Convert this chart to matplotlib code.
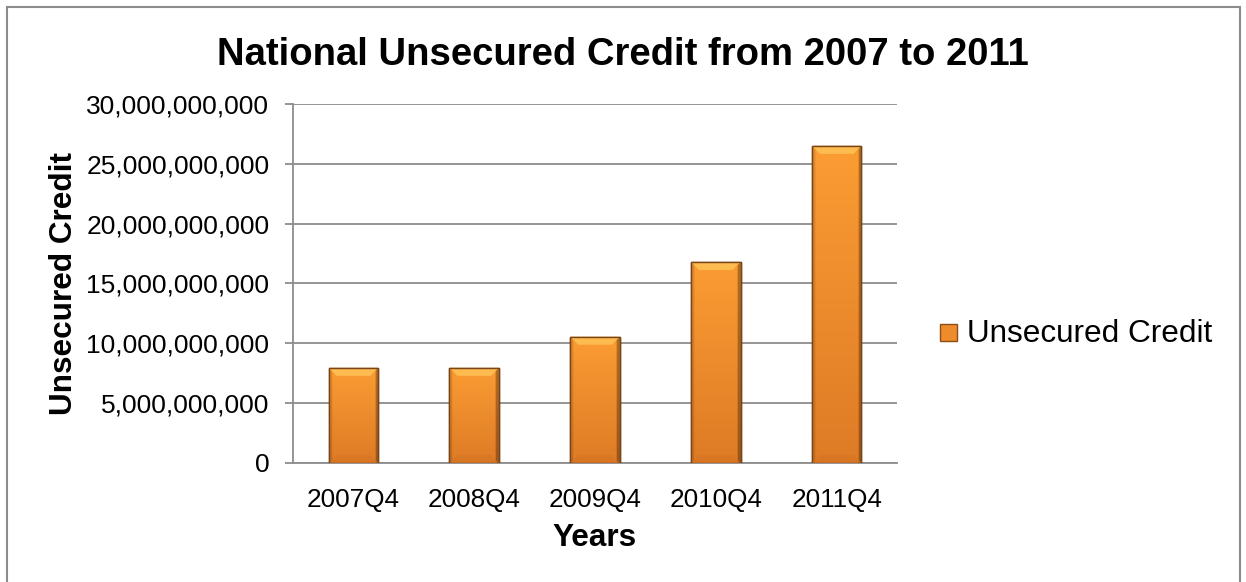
import numpy as np
import matplotlib.pyplot as plt
from matplotlib.patches import Rectangle, Polygon
from matplotlib.ticker import FuncFormatter, MultipleLocator
from matplotlib.colors import to_rgb

plt.rcParams['font.family'] = ['Liberation Sans', 'DejaVu Sans']

years = ['2007Q4', '2008Q4', '2009Q4', '2010Q4', '2011Q4']
credit = [7.95e9, 7.95e9, 10.55e9, 16.8e9, 26.5e9]

fig = plt.figure(figsize=(12.46, 5.82), dpi=100)
ax = fig.add_axes([0.2352, 0.2045, 0.4847, 0.6168])

x = np.arange(len(years))
bars = ax.bar(x, credit, width=0.41, color='#F0912C', edgecolor='#6E3F14',
              linewidth=1.0, zorder=3)

ax.set_xlim(-0.5, len(years) - 0.5)
ax.set_ylim(0, 30e9)
ax.yaxis.set_major_locator(MultipleLocator(5e9))
ax.yaxis.set_major_formatter(FuncFormatter(lambda v, p: f'{v:,.0f}'))
ax.set_xticks(x)
ax.set_xticklabels(years)

ax.grid(axis='y', color='#8C8C8C', linewidth=1.3, zorder=0)
ax.set_axisbelow(True)
for s in ['top', 'right']:
    ax.spines[s].set_visible(False)
for s in ['left', 'bottom']:
    ax.spines[s].set_color('#8C8C8C')
    ax.spines[s].set_linewidth(1.3)
ax.tick_params(axis='y', length=6, color='#8C8C8C', width=1.3,
               labelsize=19, pad=11)
ax.tick_params(axis='x', length=0, labelsize=18.8, pad=18)

# bevelled bar fill: top-to-bottom shading, darker side edges
def bar_image(nrow=80, ncol=60):
    top, bottom = np.array(to_rgb('#FB9C33')), np.array(to_rgb('#DE7B26'))
    t = np.linspace(0, 1, nrow)[:, None, None]
    rgb = top * (1 - t) + bottom * t
    u = np.linspace(0, 1, ncol)
    side = np.ones(ncol)
    side[u < 0.06] = 0.88
    side[u > 0.94] = 0.70
    return np.clip(rgb * side[None, :, None], 0, 1)

fill = bar_image()
fig.canvas.draw()
to_px = ax.transData
to_data = ax.transData.inverted()
for b in bars:
    x0, y0 = b.get_x(), b.get_y()
    w, h = b.get_width(), b.get_height()
    img = ax.imshow(fill, extent=[x0, x0 + w, y0, y0 + h], aspect='auto',
                    interpolation='bilinear', zorder=3.5)
    img.set_clip_path(b)
    (px0, py0) = to_px.transform((x0, y0))
    (px1, py1) = to_px.transform((x0 + w, y0 + h))
    d = 8
    top = [(px0, py1), (px1, py1), (px1 - d, py1 - d), (px0 + d, py1 - d)]
    ax.add_patch(Polygon(to_data.transform(top), closed=True,
                         facecolor='#FDBB50', edgecolor='none', zorder=4))
    bot = [(px0, py0), (px1, py0), (px1 - d, py0 + d), (px0 + d, py0 + d)]
    ax.add_patch(Polygon(to_data.transform(bot), closed=True,
                         facecolor='#D47424', edgecolor='none', alpha=0.6,
                         zorder=4))
    ax.add_patch(Rectangle((x0, y0), w, h, facecolor='none',
                           edgecolor='#7A4416', linewidth=1.0, zorder=5))
ax.set_xlim(-0.5, len(years) - 0.5)
ax.set_ylim(0, 30e9)

fig.text(0.5, 0.905, 'National Unsecured Credit from 2007 to 2011',
         ha='center', va='center', fontsize=27.5, fontweight='bold')
fig.text(0.0515, 0.5130, 'Unsecured Credit', rotation=90, ha='center',
         va='center', fontsize=22.7, fontweight='bold')
fig.text(0.4775, 0.075, 'Years', ha='center', va='center',
         fontsize=22.7, fontweight='bold')

# legend entry
fig.patches.append(Rectangle((940 / 1246, 1 - 341 / 582), 17 / 1246, 17 / 582,
                             transform=fig.transFigure, facecolor='#EE8C2C',
                             edgecolor='#8A4E18', linewidth=1.0))
fig.text(967 / 1246, 1 - 334 / 582, 'Unsecured Credit', ha='left',
         va='center', fontsize=22.7)

# outer chart border
fig.patches.append(Rectangle((7 / 1246, -0.05), 1233 / 1246, 1.05 - 7 / 582,
                             transform=fig.transFigure, facecolor='none',
                             edgecolor='#8C8C8C', linewidth=1.5))

fig.savefig('out.png', dpi=100)
